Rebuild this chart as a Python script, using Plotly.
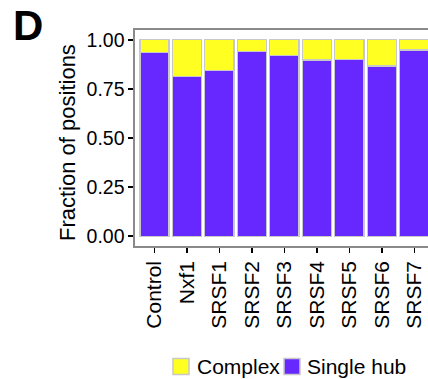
import plotly.graph_objects as go

categories = ["Control", "Nxf1", "SRSF1", "SRSF2", "SRSF3", "SRSF4", "SRSF5", "SRSF6", "SRSF7"]
single_hub = [0.937, 0.815, 0.845, 0.940, 0.919, 0.897, 0.900, 0.866, 0.948]
complex_ = [round(1 - v, 3) for v in single_hub]
y_ticks = [0.0, 0.25, 0.5, 0.75, 1.0]
y_tick_labels = ["0.00", "0.25", "0.50", "0.75", "1.00"]

YELLOW = "#FFFF22"
PURPLE = "#6628FF"
OUTLINE = "#C8C8C8"
FONT = "Liberation Sans, Arial, sans-serif"

FIG_W, FIG_H = 428, 379

fig = go.Figure()
fig.add_trace(go.Bar(x=categories, y=single_hub, name="Single hub", width=0.9,
                     marker=dict(color=PURPLE, line=dict(color=OUTLINE, width=1.3)),
                     showlegend=False))
fig.add_trace(go.Bar(x=categories, y=complex_, name="Complex", width=0.9,
                     marker=dict(color=YELLOW, line=dict(color=OUTLINE, width=1.3)),
                     showlegend=False))

L, T, W, H = 135, 30, 293, 216

def px(x):
    return (x - L) / W

def py(y):
    return (T + H - y) / H

fig.update_layout(
    barmode="stack",
    width=FIG_W, height=FIG_H,
    margin=dict(l=L, r=0, t=T, b=FIG_H - T - H, pad=0),
    paper_bgcolor="white", plot_bgcolor="white",
    font=dict(family=FONT, color="black"),
    xaxis=dict(range=[-0.6, 8.42], tickangle=-90, tickfont=dict(size=21, color="black"),
               showline=True, linecolor="#8A8A8A", linewidth=1.6, mirror=True,
               ticks="outside", ticklen=5, tickwidth=1.6, tickcolor="black",
               showgrid=False, zeroline=False, fixedrange=True),
    yaxis=dict(range=[-0.05, 1.05], tickvals=y_ticks, ticktext=y_tick_labels,
               tickfont=dict(size=19.5, color="black"),
               showline=True, linecolor="#8A8A8A", linewidth=1.6, mirror=False,
               ticks="outside", ticklen=5, tickwidth=1.6, tickcolor="black",
               showgrid=False, zeroline=False, fixedrange=True),
    bargap=0.1,
)

annotations = [
    dict(text="Fraction of positions", textangle=-90, x=px(67), y=py(143),
         xref="paper", yref="paper", xanchor="center", yanchor="middle",
         showarrow=False, font=dict(size=22, color="black", family=FONT)),
    dict(text="<b>D</b>", x=px(28.3), y=py(26), xref="paper", yref="paper",
         xanchor="center", yanchor="middle", showarrow=False,
         font=dict(size=42, color="black", family=FONT)),
    dict(text="Complex", x=px(195), y=py(366.5), xref="paper", yref="paper",
         xanchor="left", yanchor="middle", showarrow=False,
         font=dict(size=21, color="black", family=FONT)),
    dict(text="Single hub", x=px(305), y=py(366.5), xref="paper", yref="paper",
         xanchor="left", yanchor="middle", showarrow=False,
         font=dict(size=21, color="black", family=FONT)),
]
fig.update_layout(annotations=annotations)

shapes = [
    dict(type="rect", xref="paper", yref="paper", x0=px(173), x1=px(189), y0=py(374.5), y1=py(358.5),
         fillcolor=YELLOW, line=dict(color=OUTLINE, width=1.5)),
    dict(type="rect", xref="paper", yref="paper", x0=px(284), x1=px(300), y0=py(374.5), y1=py(358.5),
         fillcolor=PURPLE, line=dict(color=OUTLINE, width=1.5)),
]
fig.update_layout(shapes=shapes)

fig.write_html("out.html",
               config={"displayModeBar": False, "staticPlot": True},
               post_script="document.body.style.margin='0';document.body.style.padding='0';")
